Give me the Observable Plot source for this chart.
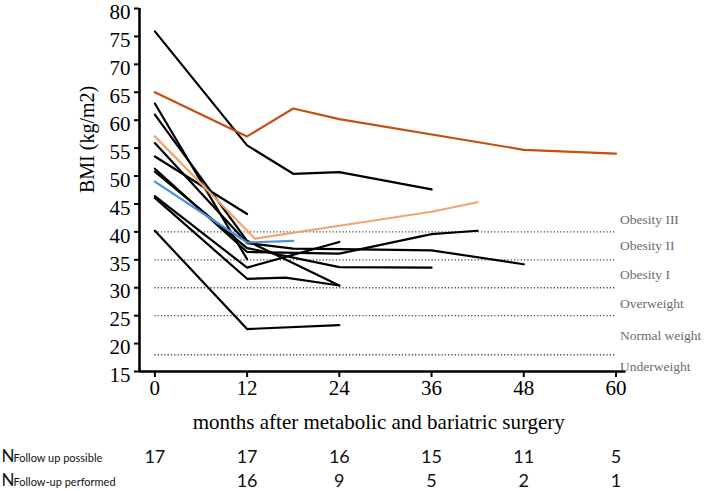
<!DOCTYPE html>
<html>
<head>
<meta charset="utf-8">
<script src="https://cdn.jsdelivr.net/npm/d3@7"></script>
<script src="https://cdn.jsdelivr.net/npm/@observablehq/plot@0.6"></script>
<style>
  html, body { margin: 0; padding: 0; background: white; }
</style>
</head>
<body>
<div id="chart"></div>
<script>
// ---- data ----
const xTicks = [0, 12, 24, 36, 48, 60];
const yTicks = [15, 20, 25, 30, 35, 40, 45, 50, 55, 60, 65, 70, 75, 80];

// each patient: [month, BMI] pairs
const patientDarkOrange = [[0, 65], [12, 57.1], [18, 62.1], [24, 60.2], [48, 54.7], [60, 54]];
const patientLightOrange = [[0, 57.1], [13, 38.8], [24, 41.1], [36, 43.6], [42, 45.3]];
const patientBlue = [[0, 49], [12, 38.1], [18, 38.4]];
const patientB1 = [[0, 75.9], [12, 55.5], [18, 50.4], [24, 50.7], [36, 47.6]];
const patientB2 = [[0, 53.5], [12, 43.2]];
const patientB3 = [[0, 63], [12, 35.1]];
const patientB4 = [[0, 61], [12, 38.4], [24, 30.4]];
const patientB5 = [[0, 55.9], [12, 38], [18, 37], [24, 36.9], [36, 36.7], [48, 34.2]];
const patientB6 = [[0, 51.3], [12, 36.4], [24, 36.1], [36, 39.6], [42, 40.2]];
const patientB7 = [[0, 50.8], [12, 37.1], [24, 33.7], [36, 33.6]];
const patientB8 = [[0, 46.4], [12, 33.6], [24, 38.2]];
const patientB9 = [[0, 46.1], [12, 31.6], [17, 31.8], [24, 30.4]];
const patientB10 = [[0, 40.2], [12, 22.6], [24, 23.3]];

const blackPatients = [patientB1, patientB2, patientB3, patientB4, patientB5, patientB6, patientB7, patientB8, patientB9, patientB10];
const colouredPatients = [patientLightOrange, patientBlue, patientDarkOrange];
const colouredColors = ["#f2a46e", "#4a8fd6", "#c4500f"];

// BMI class thresholds and labels
const thresholds = [40, 35, 30, 25, 18];
const classLabels = ["Obesity III", "Obesity II", "Obesity I", "Overweight", "Normal weight", "Underweight"];
const classLabelBmi = [42.2, 37.5, 32.4, 27.2, 21.4, 15.9];

// follow-up table
const tableMonths = [0, 12, 24, 36, 48, 60];
const followUpPossible = [17, 17, 16, 15, 11, 5];
const followUpPerformed = [null, 16, 9, 5, 2, 1];

const xTitle = "months after metabolic and bariatric surgery";
const yTitle = "BMI (kg/m2)";

// ---- build tables for the library ----
const toRows = (pts, id, color) => pts.map(([month, bmi]) => ({id, month, bmi, color}));
const blackRows = blackPatients.flatMap((p, i) => toRows(p, "b" + i, "black"));
const colouredRows = colouredPatients.flatMap((p, i) => toRows(p, "c" + i, colouredColors[i]));
const classRows = classLabels.map((label, i) => ({label, bmi: classLabelBmi[i], month: 60}));
const possibleRows = tableMonths.map((month, i) => ({month, n: followUpPossible[i]}));
const performedRows = tableMonths.map((month, i) => ({month, n: followUpPerformed[i]})).filter(d => d.n != null);

const xDomain = [-2, 61.3];
const SERIF = "Liberation Serif";
const SANS = "Lato";

const chart = Plot.plot({
  width: 706,
  height: 491,
  marginLeft: 139,
  marginRight: 80.5,
  marginTop: 8,
  marginBottom: 120,
  x: {domain: xDomain, ticks: xTicks},
  y: {domain: [15, 80], ticks: yTicks},
  color: {type: "identity"},
  style: {fontFamily: SERIF, background: "white", color: "black", overflow: "visible"},
  marks: [
    Plot.ruleY(thresholds, {x1: 0, x2: 60, stroke: "#444", strokeWidth: 1.3, strokeDasharray: "1.2,2.1"}),
    Plot.axisY({ticks: yTicks, tickSize: 5, strokeWidth: 2, text: null, label: null}),
    Plot.text(yTicks, {x: xDomain[0], y: d => d, text: d => String(d), textAnchor: "end", dx: -9, dy: 4, fontFamily: SERIF, fontSize: 21, fill: "black"}),
    Plot.axisX({ticks: xTicks, tickSize: 6, tickPadding: 3, fontSize: 21, fontFamily: SERIF, strokeWidth: 2, label: null}),
    Plot.ruleY([15], {strokeWidth: 2.6}),
    Plot.ruleX([xDomain[0]], {strokeWidth: 2.6}),
    Plot.line(blackRows, {x: "month", y: "bmi", z: "id", stroke: "color", strokeWidth: 2.2}),
    Plot.line(colouredRows, {x: "month", y: "bmi", z: "id", stroke: "color", strokeWidth: 2.2}),
    Plot.text(classRows, {x: "month", y: "bmi", text: "label", textAnchor: "start", dx: 4, fill: "#6b6b6b", fontFamily: SERIF, fontSize: 13.5}),
    Plot.text([yTitle], {frameAnchor: "left", rotate: -90, dx: -52, dy: 3, fontFamily: SERIF, fontSize: 20}),
    Plot.text([xTitle], {frameAnchor: "bottom", lineAnchor: "bottom", dy: 57, dx: -4, fontFamily: SERIF, fontSize: 21}),
    Plot.text(possibleRows, {x: "month", text: "n", frameAnchor: "bottom", lineAnchor: "bottom", dy: 91, fontFamily: SANS, fontSize: 18, fill: "#111"}),
    Plot.text(performedRows, {x: "month", text: "n", frameAnchor: "bottom", lineAnchor: "bottom", dy: 115, fontFamily: SANS, fontSize: 18, fill: "#111"}),
    Plot.text(["N"], {frameAnchor: "bottom-left", textAnchor: "start", lineAnchor: "bottom", dx: -138, dy: 90, fontFamily: SANS, fontSize: 17, fill: "#111"}),
    Plot.text(["Follow up possible"], {frameAnchor: "bottom-left", textAnchor: "start", lineAnchor: "bottom", dx: -126, dy: 90, fontFamily: SANS, fontSize: 11, fill: "#111"}),
    Plot.text(["N"], {frameAnchor: "bottom-left", textAnchor: "start", lineAnchor: "bottom", dx: -138, dy: 114, fontFamily: SANS, fontSize: 17, fill: "#111"}),
    Plot.text(["Follow-up performed"], {frameAnchor: "bottom-left", textAnchor: "start", lineAnchor: "bottom", dx: -126, dy: 114, fontFamily: SANS, fontSize: 11, fill: "#111"})
  ]
});
document.getElementById("chart").appendChild(chart);
</script>
</body>
</html>
